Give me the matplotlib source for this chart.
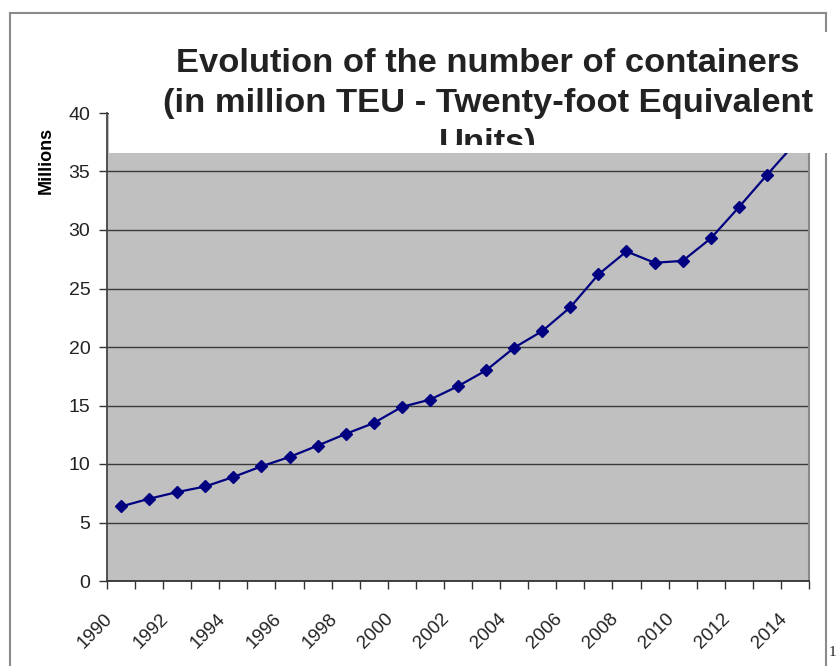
import matplotlib
matplotlib.use("Agg")
import matplotlib.pyplot as plt
from matplotlib.patches import Rectangle
from matplotlib.lines import Line2D
from matplotlib.transforms import Bbox, ScaledTranslation

years = list(range(1990, 2015))
teu_millions = [6.37, 7.03, 7.6, 8.08, 8.89, 9.8, 10.6, 11.57, 12.57, 13.5,
                14.88, 15.5, 16.65, 18.0, 19.94, 21.36, 23.4, 26.2, 28.17, 27.2,
                27.36, 29.28, 31.94, 34.7, 37.4]
y_ticks = [0, 5, 10, 15, 20, 25, 30, 35, 40]
title_lines = ["Evolution of the number of containers",
               "(in million TEU - Twenty-foot Equivalent",
               "Units)"]
y_label = "Millions"

W, H = 839, 666
fig = plt.figure(figsize=(W / 100, H / 100), dpi=100)
fig.patch.set_facecolor("white")

def fx(px):
    return px / W

def fy(py):
    return 1 - py / H

# page frame
frame_color = "#8a8a8a"
for xs, ys in [([10, 10], [13, 666]), ([10, 826], [13, 13]), ([826, 826], [13, 666])]:
    fig.add_artist(Line2D([fx(x) for x in xs], [fy(y) for y in ys], color=frame_color,
                          lw=1.5, zorder=0))

ax = fig.add_axes([fx(107), fy(581), fx(809) - fx(107), fy(113) - fy(581)])
ax.set_facecolor("#c0c0c0")
x = list(range(len(years)))
ax.plot(x, teu_millions, color="#000080", lw=1.6, marker="D", ms=6.5,
        markerfacecolor="#000080", markeredgecolor="#000080", zorder=3, clip_on=True)

ax.set_xlim(-0.5, len(years) - 0.5)
ax.set_ylim(0, 40)
ax.set_yticks(y_ticks)
ax.set_yticklabels([str(v) for v in y_ticks])
ax.yaxis.grid(True, color="#3a3a3a", lw=1.0)
ax.set_axisbelow(True)

# category boundary ticks (major) and labels at category centres (minor)
ax.set_xticks([i - 0.5 for i in range(len(years) + 1)])
ax.set_xticklabels([])
lab_pos = [i for i, yv in enumerate(years) if yv % 2 == 0]
ax.set_xticks(lab_pos, minor=True)
ax.set_xticklabels([str(years[i]) for i in lab_pos], minor=True, rotation=45,
                   ha="right", va="top", fontsize=13.5, family="Liberation Sans")
ax.tick_params(axis="x", which="major", direction="out", length=6, width=1, color="#333333")
ax.tick_params(axis="x", which="minor", length=0, pad=21)
ax.tick_params(axis="y", direction="out", length=6, width=1, color="#333333", pad=6,
               labelsize=14)
for lab in ax.get_yticklabels():
    lab.set_family("Liberation Sans")
    lab.set_color("#222222")
offset = ScaledTranslation(-5 / 100, 0, fig.dpi_scale_trans)
for lab in ax.get_xticklabels(minor=True):
    lab.set_transform(lab.get_transform() + offset)
    lab.set_color("#222222")

ax.spines["top"].set_visible(False)
ax.spines["left"].set_color("#444444")
ax.spines["left"].set_linewidth(1.3)
ax.spines["bottom"].set_color("#333333")
ax.spines["bottom"].set_linewidth(1.3)
ax.spines["right"].set_color("#8a8a8a")
ax.spines["right"].set_linewidth(1.5)

fig.text(fx(46), fy(160), y_label, rotation=90, ha="center", va="center",
         fontsize=13, fontweight="bold", family="Liberation Sans")

# white title box covering the top of the plot area
fig.add_artist(Rectangle((fx(109), fy(153)), fx(833) - fx(109), fy(32) - fy(153),
                         facecolor="white", edgecolor="none", zorder=5,
                         transform=fig.transFigure))

clip = Bbox.from_extents(0, H - 145, W, H)
for i, line in enumerate(title_lines):
    t = fig.text(fx(488), fy(72 + 40 * i), line, ha="center", va="baseline",
                 fontsize=24.8, fontweight="bold", family="Liberation Sans",
                 color="#222222", zorder=6)
    t.set_clip_box(clip)
    t.set_clip_on(True)

fig.text(fx(829), fy(653), "1", ha="left", va="center", fontsize=11,
         family="Liberation Serif", color="#222222")

fig.savefig("out.png", dpi=100)
